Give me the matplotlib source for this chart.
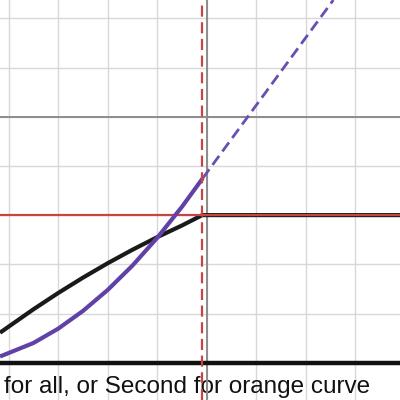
import matplotlib
matplotlib.use("Agg")
import matplotlib.pyplot as plt

# ---- data ----
black_x = [-4.176, -3.5, -3.0, -2.5, -2.0, -1.5, -1.0, -0.5, -0.089, 3.905]
black_y = [-4.390, -3.914, -3.583, -3.271, -2.978, -2.704, -2.448, -2.211, -2.000, -2.000]

purple_x = [-4.176, -3.5, -3.0, -2.5, -2.0, -1.5, -1.0, -0.5, -0.081]
purple_y = [-4.874, -4.599, -4.308, -3.948, -3.521, -3.026, -2.462, -1.831, -1.252]

tangent_x = [-0.081, 2.558]
tangent_y = [-1.252, 2.372]

red_level = -2.0
red_x_cut = -0.089
base_level = -5.0

grid_x = [-4, -3, -2, -1, 0, 1, 2, 3]
grid_y = [-5, -4, -3, -2, -1, 0, 1, 2]

note = "for all, or Second for orange curve"

# ---- drawing ----
fig = plt.figure(figsize=(4, 4), dpi=100)
ax = fig.add_axes([0, 0, 1, 1])
ax.set_xlim(-4.176, 3.905)
ax.set_ylim(-5.758, 2.372)
ax.axis("off")

for gx in grid_x:
    ax.axvline(gx, color="#d8d8d8", lw=1.0, zorder=1)
for gy in grid_y:
    ax.axhline(gy, color="#d8d8d8", lw=1.0, zorder=1)

ax.text(0.01, 0.018, note, transform=ax.transAxes, fontsize=17.5,
        family="Liberation Sans", color="#111111", ha="left", va="baseline", zorder=2)

ax.axvline(0, color="#8c8c8c", lw=1.4, zorder=3)
ax.axhline(0, color="#8c8c8c", lw=1.4, zorder=3)

ax.axhline(base_level, color="#111111", lw=3.2, zorder=4)

ax.plot(black_x, black_y, color="#1a1a1a", lw=3.0, solid_capstyle="butt",
        solid_joinstyle="round", zorder=5)
ax.axhline(red_level, color="#c74440", lw=1.6, zorder=6)

ax.plot(purple_x, purple_y, color="#6042a6", lw=3.0, solid_capstyle="butt",
        solid_joinstyle="round", zorder=7)
ax.plot(tangent_x, tangent_y, color="#6a4fb0", lw=2.0, dashes=(4, 2), zorder=7)

ax.axvline(red_x_cut, color="#c74440", lw=1.6, dashes=(5, 2.5), zorder=8)

fig.savefig("out.png", dpi=100)
